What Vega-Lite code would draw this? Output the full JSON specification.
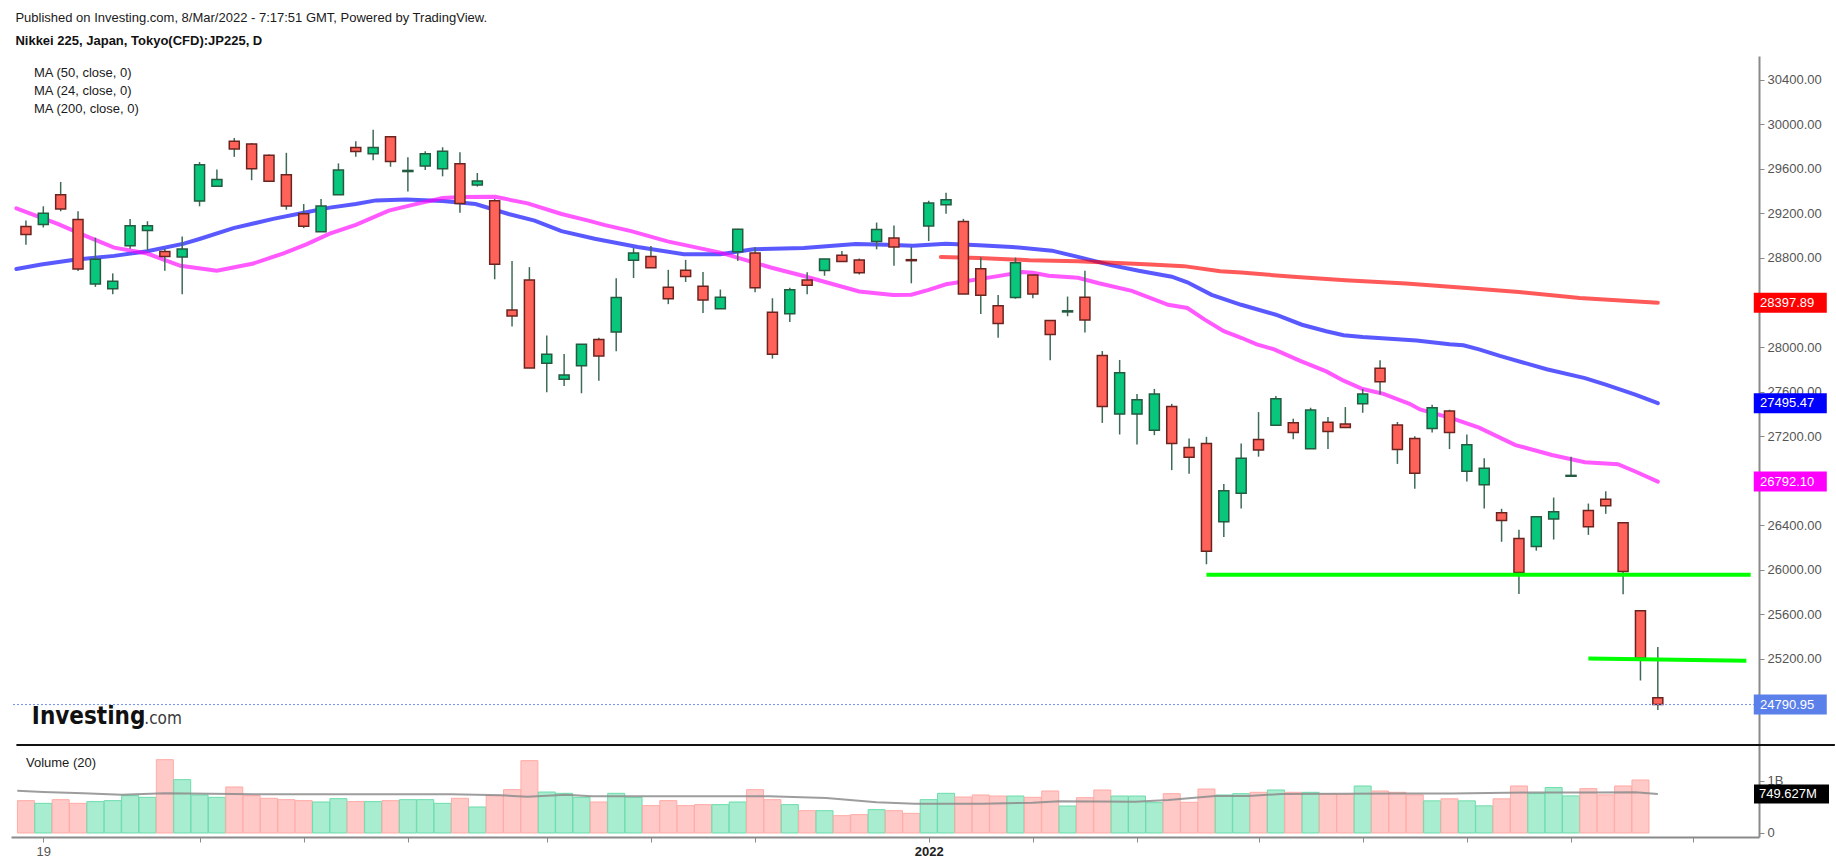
{
  "$schema": "https://vega.github.io/schema/vega-lite/v6.json",
  "padding": {"left": 8, "top": 12, "right": 0, "bottom": 0},
  "background": "white",
  "title": {
    "text": "Published on Investing.com, 8/Mar/2022 - 7:17:51 GMT, Powered by TradingView.",
    "subtitle": "Nikkei 225, Japan, Tokyo(CFD):JP225, D",
    "anchor": "start",
    "dx": 7,
    "offset": 8,
    "font": "Liberation Sans",
    "fontSize": 13,
    "fontWeight": "normal",
    "color": "#1a1a1a",
    "subtitleFont": "Liberation Sans",
    "subtitleFontSize": 13,
    "subtitleFontWeight": "bold",
    "subtitleColor": "#111111",
    "subtitlePadding": 10
  },
  "datasets": {
    "candles": [
      {"i": 0, "o": 29082, "h": 29135, "l": 28919, "c": 29011, "v": 622000000},
      {"i": 1, "o": 29100, "h": 29263, "l": 29073, "c": 29200, "v": 570000000},
      {"i": 2, "o": 29366, "h": 29482, "l": 29218, "c": 29239, "v": 641000000},
      {"i": 3, "o": 29144, "h": 29218, "l": 28682, "c": 28700, "v": 570000000},
      {"i": 4, "o": 28566, "h": 28981, "l": 28540, "c": 28788, "v": 603000000},
      {"i": 5, "o": 28522, "h": 28661, "l": 28474, "c": 28590, "v": 622000000},
      {"i": 6, "o": 28910, "h": 29150, "l": 28883, "c": 29088, "v": 718000000},
      {"i": 7, "o": 29046, "h": 29129, "l": 28868, "c": 29088, "v": 686000000},
      {"i": 8, "o": 28857, "h": 28883, "l": 28685, "c": 28812, "v": 1410000000},
      {"i": 9, "o": 28809, "h": 28993, "l": 28474, "c": 28880, "v": 1026000000},
      {"i": 10, "o": 29310, "h": 29660, "l": 29263, "c": 29636, "v": 731000000},
      {"i": 11, "o": 29443, "h": 29594, "l": 29443, "c": 29503, "v": 686000000},
      {"i": 12, "o": 29846, "h": 29876, "l": 29707, "c": 29778, "v": 885000000},
      {"i": 13, "o": 29823, "h": 29831, "l": 29497, "c": 29600, "v": 718000000},
      {"i": 14, "o": 29722, "h": 29728, "l": 29485, "c": 29488, "v": 667000000},
      {"i": 15, "o": 29547, "h": 29743, "l": 29233, "c": 29266, "v": 641000000},
      {"i": 16, "o": 29197, "h": 29283, "l": 29067, "c": 29085, "v": 622000000},
      {"i": 17, "o": 29034, "h": 29328, "l": 29034, "c": 29266, "v": 596000000},
      {"i": 18, "o": 29366, "h": 29648, "l": 29366, "c": 29588, "v": 660000000},
      {"i": 19, "o": 29790, "h": 29846, "l": 29707, "c": 29754, "v": 603000000},
      {"i": 20, "o": 29734, "h": 29950, "l": 29677, "c": 29790, "v": 603000000},
      {"i": 21, "o": 29888, "h": 29888, "l": 29618, "c": 29666, "v": 622000000},
      {"i": 22, "o": 29575, "h": 29704, "l": 29396, "c": 29585, "v": 641000000},
      {"i": 23, "o": 29624, "h": 29757, "l": 29588, "c": 29734, "v": 641000000},
      {"i": 24, "o": 29600, "h": 29793, "l": 29532, "c": 29757, "v": 570000000},
      {"i": 25, "o": 29645, "h": 29748, "l": 29206, "c": 29289, "v": 667000000},
      {"i": 26, "o": 29455, "h": 29562, "l": 29440, "c": 29491, "v": 500000000},
      {"i": 27, "o": 29313, "h": 29328, "l": 28608, "c": 28744, "v": 718000000},
      {"i": 28, "o": 28332, "h": 28771, "l": 28184, "c": 28279, "v": 833000000},
      {"i": 29, "o": 28602, "h": 28717, "l": 27811, "c": 27811, "v": 1391000000},
      {"i": 30, "o": 27855, "h": 28104, "l": 27594, "c": 27935, "v": 788000000},
      {"i": 31, "o": 27710, "h": 27938, "l": 27651, "c": 27748, "v": 763000000},
      {"i": 32, "o": 27831, "h": 28024, "l": 27585, "c": 28024, "v": 686000000},
      {"i": 33, "o": 28068, "h": 28083, "l": 27698, "c": 27920, "v": 596000000},
      {"i": 34, "o": 28134, "h": 28617, "l": 27962, "c": 28445, "v": 763000000},
      {"i": 35, "o": 28779, "h": 28889, "l": 28619, "c": 28844, "v": 686000000},
      {"i": 36, "o": 28812, "h": 28907, "l": 28711, "c": 28711, "v": 526000000},
      {"i": 37, "o": 28536, "h": 28693, "l": 28385, "c": 28433, "v": 622000000},
      {"i": 38, "o": 28690, "h": 28782, "l": 28584, "c": 28634, "v": 526000000},
      {"i": 39, "o": 28545, "h": 28673, "l": 28305, "c": 28421, "v": 545000000},
      {"i": 40, "o": 28344, "h": 28516, "l": 28344, "c": 28447, "v": 545000000},
      {"i": 41, "o": 28856, "h": 29061, "l": 28773, "c": 29058, "v": 596000000},
      {"i": 42, "o": 28844, "h": 28898, "l": 28492, "c": 28533, "v": 833000000},
      {"i": 43, "o": 28311, "h": 28438, "l": 27896, "c": 27935, "v": 641000000},
      {"i": 44, "o": 28299, "h": 28533, "l": 28225, "c": 28513, "v": 545000000},
      {"i": 45, "o": 28601, "h": 28670, "l": 28474, "c": 28554, "v": 429000000},
      {"i": 46, "o": 28687, "h": 28791, "l": 28640, "c": 28791, "v": 429000000},
      {"i": 47, "o": 28824, "h": 28862, "l": 28767, "c": 28767, "v": 333000000},
      {"i": 48, "o": 28782, "h": 28794, "l": 28652, "c": 28667, "v": 353000000},
      {"i": 49, "o": 28948, "h": 29117, "l": 28877, "c": 29055, "v": 449000000},
      {"i": 50, "o": 28978, "h": 29090, "l": 28729, "c": 28898, "v": 429000000},
      {"i": 51, "o": 28784, "h": 28898, "l": 28572, "c": 28775, "v": 378000000},
      {"i": 52, "o": 29087, "h": 29313, "l": 28951, "c": 29292, "v": 641000000},
      {"i": 53, "o": 29277, "h": 29384, "l": 29197, "c": 29321, "v": 763000000},
      {"i": 54, "o": 29126, "h": 29150, "l": 28477, "c": 28477, "v": 692000000},
      {"i": 55, "o": 28702, "h": 28806, "l": 28296, "c": 28465, "v": 731000000},
      {"i": 56, "o": 28370, "h": 28468, "l": 28083, "c": 28210, "v": 711000000},
      {"i": 57, "o": 28444, "h": 28803, "l": 28433, "c": 28756, "v": 711000000},
      {"i": 58, "o": 28646, "h": 28646, "l": 28438, "c": 28477, "v": 686000000},
      {"i": 59, "o": 28237, "h": 28237, "l": 27881, "c": 28113, "v": 808000000},
      {"i": 60, "o": 28315, "h": 28453, "l": 28276, "c": 28325, "v": 519000000},
      {"i": 61, "o": 28447, "h": 28684, "l": 28130, "c": 28243, "v": 679000000},
      {"i": 62, "o": 27923, "h": 27964, "l": 27319, "c": 27467, "v": 827000000},
      {"i": 63, "o": 27398, "h": 27884, "l": 27215, "c": 27769, "v": 711000000},
      {"i": 64, "o": 27398, "h": 27579, "l": 27126, "c": 27526, "v": 711000000},
      {"i": 65, "o": 27253, "h": 27624, "l": 27209, "c": 27579, "v": 583000000},
      {"i": 66, "o": 27466, "h": 27490, "l": 26895, "c": 27135, "v": 756000000},
      {"i": 67, "o": 27099, "h": 27179, "l": 26862, "c": 27010, "v": 590000000},
      {"i": 68, "o": 27135, "h": 27194, "l": 26050, "c": 26166, "v": 846000000},
      {"i": 69, "o": 26432, "h": 26770, "l": 26296, "c": 26711, "v": 731000000},
      {"i": 70, "o": 26687, "h": 27135, "l": 26551, "c": 27001, "v": 756000000},
      {"i": 71, "o": 27170, "h": 27416, "l": 27016, "c": 27075, "v": 782000000},
      {"i": 72, "o": 27298, "h": 27561, "l": 27292, "c": 27535, "v": 827000000},
      {"i": 73, "o": 27321, "h": 27357, "l": 27173, "c": 27232, "v": 782000000},
      {"i": 74, "o": 27087, "h": 27455, "l": 27087, "c": 27434, "v": 782000000},
      {"i": 75, "o": 27324, "h": 27372, "l": 27084, "c": 27241, "v": 750000000},
      {"i": 76, "o": 27309, "h": 27461, "l": 27277, "c": 27277, "v": 744000000},
      {"i": 77, "o": 27490, "h": 27623, "l": 27410, "c": 27579, "v": 904000000},
      {"i": 78, "o": 27810, "h": 27881, "l": 27573, "c": 27689, "v": 808000000},
      {"i": 79, "o": 27301, "h": 27327, "l": 26951, "c": 27081, "v": 782000000},
      {"i": 80, "o": 27179, "h": 27200, "l": 26729, "c": 26868, "v": 733000000},
      {"i": 81, "o": 27268, "h": 27481, "l": 27232, "c": 27455, "v": 618000000},
      {"i": 82, "o": 27425, "h": 27437, "l": 27084, "c": 27232, "v": 657000000},
      {"i": 83, "o": 26886, "h": 27215, "l": 26794, "c": 27123, "v": 618000000},
      {"i": 84, "o": 26764, "h": 27001, "l": 26551, "c": 26912, "v": 522000000},
      {"i": 85, "o": 26512, "h": 26548, "l": 26252, "c": 26444, "v": 657000000},
      {"i": 86, "o": 26281, "h": 26361, "l": 25783, "c": 25976, "v": 904000000},
      {"i": 87, "o": 26210, "h": 26477, "l": 26172, "c": 26477, "v": 758000000},
      {"i": 88, "o": 26456, "h": 26649, "l": 26272, "c": 26521, "v": 873000000},
      {"i": 89, "o": 26840, "h": 27016, "l": 26840, "c": 26848, "v": 713000000},
      {"i": 90, "o": 26533, "h": 26595, "l": 26314, "c": 26388, "v": 854000000},
      {"i": 91, "o": 26634, "h": 26705, "l": 26503, "c": 26575, "v": 733000000},
      {"i": 92, "o": 26423, "h": 26423, "l": 25780, "c": 25985, "v": 904000000},
      {"i": 93, "o": 25632, "h": 25640, "l": 25007, "c": 25209, "v": 1019000000},
      {"i": 94, "o": 24853, "h": 25307, "l": 24743, "c": 24790.95}
    ],
    "ma": [
      {"ma": "MA (50, close, 0)", "i": -0.55, "val": 28700},
      {"ma": "MA (50, close, 0)", "i": 0.88, "val": 28741},
      {"ma": "MA (50, close, 0)", "i": 2.79, "val": 28783},
      {"ma": "MA (50, close, 0)", "i": 5.08, "val": 28818},
      {"ma": "MA (50, close, 0)", "i": 6.99, "val": 28860},
      {"ma": "MA (50, close, 0)", "i": 9.1, "val": 28928},
      {"ma": "MA (50, close, 0)", "i": 10.04, "val": 28972},
      {"ma": "MA (50, close, 0)", "i": 11.95, "val": 29067},
      {"ma": "MA (50, close, 0)", "i": 14.24, "val": 29150},
      {"ma": "MA (50, close, 0)", "i": 16.15, "val": 29209},
      {"ma": "MA (50, close, 0)", "i": 17.5, "val": 29251},
      {"ma": "MA (50, close, 0)", "i": 19, "val": 29283},
      {"ma": "MA (50, close, 0)", "i": 20.16, "val": 29316},
      {"ma": "MA (50, close, 0)", "i": 21.9, "val": 29325},
      {"ma": "MA (50, close, 0)", "i": 24, "val": 29310},
      {"ma": "MA (50, close, 0)", "i": 25.9, "val": 29283},
      {"ma": "MA (50, close, 0)", "i": 27.8, "val": 29194},
      {"ma": "MA (50, close, 0)", "i": 29.3, "val": 29135},
      {"ma": "MA (50, close, 0)", "i": 30.85, "val": 29040},
      {"ma": "MA (50, close, 0)", "i": 32.76, "val": 28972},
      {"ma": "MA (50, close, 0)", "i": 35.24, "val": 28898},
      {"ma": "MA (50, close, 0)", "i": 37.9, "val": 28833},
      {"ma": "MA (50, close, 0)", "i": 40, "val": 28833},
      {"ma": "MA (50, close, 0)", "i": 41.9, "val": 28877},
      {"ma": "MA (50, close, 0)", "i": 44.8, "val": 28889},
      {"ma": "MA (50, close, 0)", "i": 47.8, "val": 28924},
      {"ma": "MA (50, close, 0)", "i": 49.56, "val": 28918},
      {"ma": "MA (50, close, 0)", "i": 51.1, "val": 28910},
      {"ma": "MA (50, close, 0)", "i": 53, "val": 28927},
      {"ma": "MA (50, close, 0)", "i": 54.9, "val": 28913},
      {"ma": "MA (50, close, 0)", "i": 56.8, "val": 28898},
      {"ma": "MA (50, close, 0)", "i": 59.1, "val": 28865},
      {"ma": "MA (50, close, 0)", "i": 60.6, "val": 28809},
      {"ma": "MA (50, close, 0)", "i": 62.5, "val": 28735},
      {"ma": "MA (50, close, 0)", "i": 64.1, "val": 28684},
      {"ma": "MA (50, close, 0)", "i": 66, "val": 28631},
      {"ma": "MA (50, close, 0)", "i": 66.9, "val": 28581},
      {"ma": "MA (50, close, 0)", "i": 68.3, "val": 28468},
      {"ma": "MA (50, close, 0)", "i": 70, "val": 28379},
      {"ma": "MA (50, close, 0)", "i": 72, "val": 28290},
      {"ma": "MA (50, close, 0)", "i": 73.5, "val": 28200},
      {"ma": "MA (50, close, 0)", "i": 74.9, "val": 28142},
      {"ma": "MA (50, close, 0)", "i": 75.9, "val": 28106},
      {"ma": "MA (50, close, 0)", "i": 77, "val": 28089},
      {"ma": "MA (50, close, 0)", "i": 80.1, "val": 28059},
      {"ma": "MA (50, close, 0)", "i": 82, "val": 28024},
      {"ma": "MA (50, close, 0)", "i": 82.8, "val": 28015},
      {"ma": "MA (50, close, 0)", "i": 83.7, "val": 27979},
      {"ma": "MA (50, close, 0)", "i": 84.9, "val": 27920},
      {"ma": "MA (50, close, 0)", "i": 87.6, "val": 27801},
      {"ma": "MA (50, close, 0)", "i": 89.8, "val": 27721},
      {"ma": "MA (50, close, 0)", "i": 91, "val": 27662},
      {"ma": "MA (50, close, 0)", "i": 92.7, "val": 27573},
      {"ma": "MA (50, close, 0)", "i": 94, "val": 27495.47},
      {"ma": "MA (24, close, 0)", "i": -0.55, "val": 29245},
      {"ma": "MA (24, close, 0)", "i": 1.83, "val": 29106},
      {"ma": "MA (24, close, 0)", "i": 3.36, "val": 29002},
      {"ma": "MA (24, close, 0)", "i": 5.08, "val": 28892},
      {"ma": "MA (24, close, 0)", "i": 6.99, "val": 28839},
      {"ma": "MA (24, close, 0)", "i": 8.9, "val": 28729},
      {"ma": "MA (24, close, 0)", "i": 11, "val": 28685},
      {"ma": "MA (24, close, 0)", "i": 13.1, "val": 28750},
      {"ma": "MA (24, close, 0)", "i": 14.8, "val": 28839},
      {"ma": "MA (24, close, 0)", "i": 16.15, "val": 28922},
      {"ma": "MA (24, close, 0)", "i": 17.5, "val": 29017},
      {"ma": "MA (24, close, 0)", "i": 19, "val": 29097},
      {"ma": "MA (24, close, 0)", "i": 20.9, "val": 29224},
      {"ma": "MA (24, close, 0)", "i": 22.45, "val": 29283},
      {"ma": "MA (24, close, 0)", "i": 24, "val": 29337},
      {"ma": "MA (24, close, 0)", "i": 25.1, "val": 29346},
      {"ma": "MA (24, close, 0)", "i": 27.03, "val": 29348},
      {"ma": "MA (24, close, 0)", "i": 28.9, "val": 29289},
      {"ma": "MA (24, close, 0)", "i": 30.85, "val": 29194},
      {"ma": "MA (24, close, 0)", "i": 32.4, "val": 29135},
      {"ma": "MA (24, close, 0)", "i": 33.3, "val": 29096},
      {"ma": "MA (24, close, 0)", "i": 34.86, "val": 29040},
      {"ma": "MA (24, close, 0)", "i": 36.96, "val": 28948},
      {"ma": "MA (24, close, 0)", "i": 40, "val": 28847},
      {"ma": "MA (24, close, 0)", "i": 42.9, "val": 28714},
      {"ma": "MA (24, close, 0)", "i": 44.8, "val": 28637},
      {"ma": "MA (24, close, 0)", "i": 48, "val": 28498},
      {"ma": "MA (24, close, 0)", "i": 49.95, "val": 28468},
      {"ma": "MA (24, close, 0)", "i": 51, "val": 28470},
      {"ma": "MA (24, close, 0)", "i": 52, "val": 28513},
      {"ma": "MA (24, close, 0)", "i": 53, "val": 28563},
      {"ma": "MA (24, close, 0)", "i": 55.9, "val": 28634},
      {"ma": "MA (24, close, 0)", "i": 57.4, "val": 28673},
      {"ma": "MA (24, close, 0)", "i": 58, "val": 28667},
      {"ma": "MA (24, close, 0)", "i": 58.9, "val": 28640},
      {"ma": "MA (24, close, 0)", "i": 60.6, "val": 28622},
      {"ma": "MA (24, close, 0)", "i": 61.8, "val": 28572},
      {"ma": "MA (24, close, 0)", "i": 63.7, "val": 28504},
      {"ma": "MA (24, close, 0)", "i": 65.8, "val": 28379},
      {"ma": "MA (24, close, 0)", "i": 66.9, "val": 28350},
      {"ma": "MA (24, close, 0)", "i": 67.9, "val": 28246},
      {"ma": "MA (24, close, 0)", "i": 69, "val": 28142},
      {"ma": "MA (24, close, 0)", "i": 70, "val": 28083},
      {"ma": "MA (24, close, 0)", "i": 70.9, "val": 28024},
      {"ma": "MA (24, close, 0)", "i": 71.9, "val": 27979},
      {"ma": "MA (24, close, 0)", "i": 73.4, "val": 27875},
      {"ma": "MA (24, close, 0)", "i": 74.9, "val": 27781},
      {"ma": "MA (24, close, 0)", "i": 75.9, "val": 27698},
      {"ma": "MA (24, close, 0)", "i": 77, "val": 27623},
      {"ma": "MA (24, close, 0)", "i": 78.2, "val": 27579},
      {"ma": "MA (24, close, 0)", "i": 79.7, "val": 27490},
      {"ma": "MA (24, close, 0)", "i": 80.3, "val": 27440},
      {"ma": "MA (24, close, 0)", "i": 82.2, "val": 27357},
      {"ma": "MA (24, close, 0)", "i": 83.7, "val": 27277},
      {"ma": "MA (24, close, 0)", "i": 85.8, "val": 27120},
      {"ma": "MA (24, close, 0)", "i": 87.9, "val": 27031},
      {"ma": "MA (24, close, 0)", "i": 89.8, "val": 26966},
      {"ma": "MA (24, close, 0)", "i": 91.7, "val": 26948},
      {"ma": "MA (24, close, 0)", "i": 92.7, "val": 26883},
      {"ma": "MA (24, close, 0)", "i": 94, "val": 26792.1},
      {"ma": "MA (200, close, 0)", "i": 52.7, "val": 28809},
      {"ma": "MA (200, close, 0)", "i": 54.9, "val": 28800},
      {"ma": "MA (200, close, 0)", "i": 57.8, "val": 28779},
      {"ma": "MA (200, close, 0)", "i": 60.6, "val": 28770},
      {"ma": "MA (200, close, 0)", "i": 64.5, "val": 28744},
      {"ma": "MA (200, close, 0)", "i": 66.7, "val": 28726},
      {"ma": "MA (200, close, 0)", "i": 68.8, "val": 28681},
      {"ma": "MA (200, close, 0)", "i": 70, "val": 28668},
      {"ma": "MA (200, close, 0)", "i": 73, "val": 28630},
      {"ma": "MA (200, close, 0)", "i": 76, "val": 28600},
      {"ma": "MA (200, close, 0)", "i": 79.5, "val": 28570},
      {"ma": "MA (200, close, 0)", "i": 83, "val": 28530},
      {"ma": "MA (200, close, 0)", "i": 86, "val": 28494},
      {"ma": "MA (200, close, 0)", "i": 89.5, "val": 28440},
      {"ma": "MA (200, close, 0)", "i": 94, "val": 28397.89}
    ],
    "volma": [
      {"i": -0.5, "val": 814000000},
      {"i": 1, "val": 788000000},
      {"i": 3.3, "val": 763000000},
      {"i": 5.5, "val": 737000000},
      {"i": 8, "val": 763000000},
      {"i": 13.6, "val": 744000000},
      {"i": 24.5, "val": 744000000},
      {"i": 27.4, "val": 724000000},
      {"i": 28.9, "val": 699000000},
      {"i": 31.1, "val": 737000000},
      {"i": 32.6, "val": 705000000},
      {"i": 42.8, "val": 705000000},
      {"i": 46.1, "val": 673000000},
      {"i": 49, "val": 590000000},
      {"i": 51.2, "val": 564000000},
      {"i": 55.1, "val": 564000000},
      {"i": 58, "val": 583000000},
      {"i": 59.5, "val": 609000000},
      {"i": 63.9, "val": 603000000},
      {"i": 65.8, "val": 635000000},
      {"i": 68.5, "val": 711000000},
      {"i": 70.4, "val": 711000000},
      {"i": 72.3, "val": 750000000},
      {"i": 79.3, "val": 760000000},
      {"i": 82.1, "val": 758000000},
      {"i": 86.5, "val": 777000000},
      {"i": 90, "val": 777000000},
      {"i": 92.7, "val": 784000000},
      {"i": 94, "val": 749627000}
    ],
    "levels": [
      {"i": 68, "i2": 99.35, "p": 25955, "p2": 25955},
      {"i": 90, "i2": 99.1, "p": 25205, "p2": 25185}
    ]
  },
  "spacing": 0,
  "vconcat": [
    {
      "width": 1748,
      "height": 688,
      "layer": [
        {
          "data": {"name": "ma"},
          "mark": {"type": "line", "strokeWidth": 4, "opacity": 0.65, "strokeCap": "round"},
          "encoding": {
            "x": {"field": "i", "type": "quantitative", "title": null, "axis": null,
                  "scale": {"domain": [-0.573, 99.54], "nice": false, "zero": false}},
            "y": {"field": "val", "type": "quantitative", "title": null,
                  "scale": {"domain": [24437, 30612], "nice": false, "zero": false},
                  "axis": {
                    "orient": "right",
                    "values": [24800, 25200, 25600, 26000, 26400, 26800, 27200, 27600, 28000, 28400, 28800, 29200, 29600, 30000, 30400],
                    "format": ".2f",
                    "grid": false,
                    "domainColor": "#8a8a8a",
                    "domainWidth": 2,
                    "tickColor": "#8a8a8a",
                    "tickSize": 5,
                    "labelColor": "#555555",
                    "labelFont": "Liberation Sans",
                    "labelFontSize": 13,
                    "labelPadding": 3,
                    "labelOverlap": false
                  }},
            "color": {
              "field": "ma", "type": "nominal",
              "scale": {"domain": ["MA (50, close, 0)", "MA (24, close, 0)", "MA (200, close, 0)"],
                        "range": ["#0000ff", "#ff00ff", "#ff0000"]},
              "legend": {
                "title": null, "orient": "top-left", "offset": 10, "padding": 0,
                "symbolOpacity": 0, "symbolSize": 0, "symbolStrokeWidth": 0,
                "labelOffset": 0, "labelFont": "Liberation Sans", "labelFontSize": 13,
                "labelColor": "#1a1a1a", "rowPadding": 4
              }
            }
          }
        },
        {
          "data": {"name": "candles"},
          "mark": {"type": "rule", "color": "#3f6b56", "strokeWidth": 1.5},
          "encoding": {
            "x": {"field": "i", "type": "quantitative", "title": null},
            "y": {"field": "l", "type": "quantitative", "title": null},
            "y2": {"field": "h"}
          }
        },
        {
          "data": {"name": "candles"},
          "mark": {"type": "bar", "width": 10, "strokeWidth": 1.5},
          "encoding": {
            "x": {"field": "i", "type": "quantitative", "title": null},
            "y": {"field": "o", "type": "quantitative", "title": null},
            "y2": {"field": "c"},
            "fill": {"condition": {"test": "datum.c >= datum.o", "value": "#08c77d"}, "value": "#ff6259"},
            "stroke": {"condition": {"test": "datum.c >= datum.o", "value": "#235a40"}, "value": "#6a2420"}
          }
        },
        {
          "data": {"name": "levels"},
          "mark": {"type": "rule", "color": "#00ff00", "strokeWidth": 4},
          "encoding": {
            "x": {"field": "i", "type": "quantitative", "title": null},
            "x2": {"field": "i2"},
            "y": {"field": "p", "type": "quantitative", "title": null},
            "y2": {"field": "p2"}
          }
        },
        {
          "data": {"name": "candles"},
          "transform": [{"filter": "datum.i == 94"}],
          "mark": {"type": "rule", "color": "#6f8ff0", "strokeWidth": 1, "strokeDash": [2, 2]},
          "encoding": {
            "y": {"field": "c", "type": "quantitative", "title": null}
          }
        },
        {
          "data": {"name": "ma"},
          "transform": [{"filter": "datum.i == 94"}],
          "mark": {"type": "tick", "orient": "horizontal", "size": 73, "thickness": 20, "opacity": 1},
          "encoding": {
            "x": {"datum": 101.63, "type": "quantitative"},
            "y": {"field": "val", "type": "quantitative", "title": null},
            "color": {"field": "ma", "type": "nominal", "legend": null}
          }
        },
        {
          "data": {"name": "ma"},
          "transform": [{"filter": "datum.i == 94"}],
          "mark": {"type": "text", "align": "left", "baseline": "middle", "dx": 6, "color": "white", "font": "Liberation Sans", "fontSize": 13},
          "encoding": {
            "x": {"datum": 99.54, "type": "quantitative"},
            "y": {"field": "val", "type": "quantitative", "title": null},
            "text": {"field": "val", "type": "quantitative", "format": ".2f"}
          }
        },
        {
          "data": {"name": "candles"},
          "transform": [{"filter": "datum.i == 94"}],
          "mark": {"type": "tick", "orient": "horizontal", "size": 73, "thickness": 20, "opacity": 1, "color": "#5b80ea"},
          "encoding": {
            "x": {"datum": 101.63, "type": "quantitative"},
            "y": {"field": "c", "type": "quantitative", "title": null}
          }
        },
        {
          "data": {"name": "candles"},
          "transform": [{"filter": "datum.i == 94"}],
          "mark": {"type": "text", "align": "left", "baseline": "middle", "dx": 6, "color": "white", "font": "Liberation Sans", "fontSize": 13},
          "encoding": {
            "x": {"datum": 99.54, "type": "quantitative"},
            "y": {"field": "c", "type": "quantitative", "title": null},
            "text": {"field": "c", "type": "quantitative", "format": ".2f"}
          }
        },
        {
          "data": {"values": [{"part": "Investing"}]},
          "mark": {"type": "text", "align": "left", "baseline": "alphabetic", "font": "DejaVu Sans Condensed", "fontSize": 24, "fontWeight": "bold", "color": "#111111"},
          "encoding": {
            "x": {"datum": 0.34, "type": "quantitative"},
            "y": {"datum": 24620, "type": "quantitative"},
            "text": {"field": "part"}
          }
        },
        {
          "data": {"values": [{"part": ".com"}]},
          "mark": {"type": "text", "align": "left", "baseline": "alphabetic", "font": "DejaVu Sans Condensed", "fontSize": 17, "color": "#3a3a3a"},
          "encoding": {
            "x": {"datum": 6.82, "type": "quantitative"},
            "y": {"datum": 24620, "type": "quantitative"},
            "text": {"field": "part"}
          }
        }
      ]
    },
    {
      "width": 1748,
      "height": 92,
      "layer": [
        {
          "data": {"name": "candles"},
          "mark": {"type": "bar", "width": 17, "strokeWidth": 1},
          "encoding": {
            "x": {"field": "i", "type": "quantitative", "title": null,
                  "scale": {"domain": [-0.573, 99.54], "nice": false, "zero": false},
                  "axis": {
                    "orient": "bottom",
                    "values": [1, 10, 16, 22, 30, 36, 42, 52, 58, 64, 71, 77, 83, 89, 96],
                    "labelExpr": "datum.value == 1 ? '19' : datum.value == 52 ? '2022' : ''",
                    "grid": false,
                    "domainColor": "#8a8a8a",
                    "domainWidth": 2,
                    "tickColor": "#8a8a8a",
                    "tickSize": 5,
                    "labelFont": "Liberation Sans",
                    "labelFontSize": 13,
                    "labelColor": {"condition": {"test": "datum.value == 52", "value": "#222222"}, "value": "#555555"},
                    "labelFontWeight": {"condition": {"test": "datum.value == 52", "value": "bold"}, "value": "normal"},
                    "labelPadding": 3,
                    "labelFlush": false,
                    "labelOverlap": false
                  }},
            "y": {"field": "v", "type": "quantitative", "title": null,
                  "scale": {"domain": [-77000000, 1692000000], "nice": false, "zero": false},
                  "axis": {
                    "orient": "right",
                    "values": [0, 1000000000],
                    "labelExpr": "datum.value == 0 ? '0' : '1B'",
                    "grid": false,
                    "domainColor": "#8a8a8a",
                    "domainWidth": 2,
                    "tickColor": "#8a8a8a",
                    "tickSize": 5,
                    "labelColor": "#555555",
                    "labelFont": "Liberation Sans",
                    "labelFontSize": 13,
                    "labelPadding": 3
                  }},
            "fill": {"condition": {"test": "datum.c >= datum.o", "value": "#a8edd0"}, "value": "#ffc9c7"},
            "stroke": {"condition": {"test": "datum.c >= datum.o", "value": "#6cdcac"}, "value": "#ffaba6"}
          }
        },
        {
          "data": {"name": "volma"},
          "mark": {"type": "line", "color": "#8c8c8c", "strokeWidth": 2, "opacity": 0.85},
          "encoding": {
            "x": {"field": "i", "type": "quantitative", "title": null},
            "y": {"field": "val", "type": "quantitative", "title": null}
          }
        },
        {
          "data": {"values": [{"edge": "pane"}]},
          "mark": {"type": "rule", "color": "#111111", "strokeWidth": 2},
          "encoding": {
            "x": {"datum": -0.55, "type": "quantitative"},
            "x2": {"datum": 104.2},
            "y": {"datum": 1692000000, "type": "quantitative"}
          }
        },
        {
          "data": {"values": [{"label": "Volume (20)"}]},
          "mark": {"type": "text", "align": "left", "baseline": "middle", "font": "Liberation Sans", "fontSize": 13, "color": "#1a1a1a"},
          "encoding": {
            "x": {"datum": 0, "type": "quantitative"},
            "y": {"datum": 1352000000, "type": "quantitative"},
            "text": {"field": "label"}
          }
        },
        {
          "data": {"name": "volma"},
          "transform": [{"filter": "datum.i == 94"}],
          "mark": {"type": "tick", "orient": "horizontal", "size": 75, "thickness": 19, "opacity": 1, "color": "#000000"},
          "encoding": {
            "x": {"datum": 101.7, "type": "quantitative"},
            "y": {"field": "val", "type": "quantitative", "title": null}
          }
        },
        {
          "data": {"name": "volma"},
          "transform": [{"filter": "datum.i == 94"}],
          "mark": {"type": "text", "align": "left", "baseline": "middle", "dx": 5, "color": "white", "font": "Liberation Sans", "fontSize": 13},
          "encoding": {
            "x": {"datum": 99.54, "type": "quantitative"},
            "y": {"field": "val", "type": "quantitative", "title": null},
            "text": {"field": "val", "type": "quantitative", "format": ".6s"}
          }
        }
      ]
    }
  ],
  "config": {
    "view": {"stroke": null},
    "font": "Liberation Sans"
  }
}
